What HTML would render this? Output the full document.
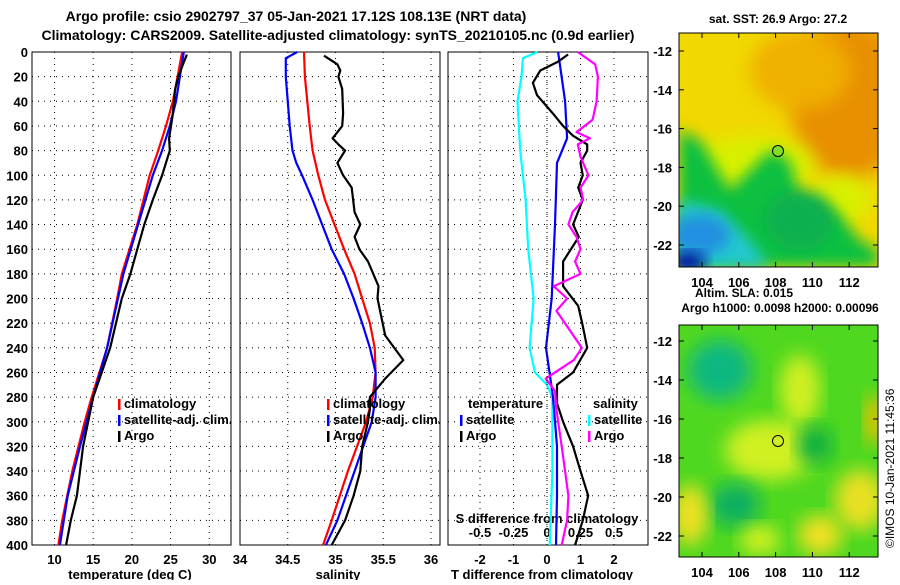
<!DOCTYPE html>
<html><head><meta charset="utf-8">
<style>
body{margin:0;background:#fff;}
svg text{font-family:"Liberation Sans",Arial,sans-serif;font-weight:bold;font-size:13px;fill:#000;}
</style></head>
<body>
<svg id="c" width="900" height="580" viewBox="0 0 900 580" xmlns="http://www.w3.org/2000/svg">
<defs>
<filter id="bl" x="-20%" y="-20%" width="140%" height="140%"><feGaussianBlur stdDeviation="9"/></filter>
<filter id="bl2" x="-20%" y="-20%" width="140%" height="140%"><feGaussianBlur stdDeviation="7"/></filter>
<clipPath id="m1"><rect x="679" y="33" width="199" height="234"/></clipPath>
<clipPath id="m2"><rect x="679" y="325" width="199" height="232"/></clipPath>
</defs>
<text x="296" y="21" text-anchor="middle" style="font-size:14px">Argo profile: csio 2902797_37 05-Jan-2021 17.12S 108.13E (NRT data)</text>
<text x="338" y="40" text-anchor="middle" style="font-size:14px">Climatology: CARS2009. Satellite-adjusted climatology: synTS_20210105.nc (0.9d earlier)</text>

<g>
<g clip-path="url(#m1)">
<rect x="679" y="33" width="199" height="234" fill="#f0d800"/>
<ellipse cx="850" cy="100" rx="60" ry="80" fill="#e89000" filter="url(#bl)"/>
<ellipse cx="800" cy="70" rx="50" ry="40" fill="#f0b000" filter="url(#bl)"/>
<ellipse cx="750" cy="165" rx="65" ry="28" fill="#d8f000" filter="url(#bl)"/>
<ellipse cx="840" cy="200" rx="30" ry="25" fill="#d8f000" filter="url(#bl)"/>
<polygon points="679,130 700,140 730,190 770,150 790,160 800,200 840,215 860,240 878,250 878,267 679,267" fill="#10c040" filter="url(#bl2)"/>
<polygon points="679,200 720,210 750,240 770,267 679,267" fill="#20c8d0" filter="url(#bl2)"/>
<ellipse cx="700" cy="235" rx="30" ry="20" fill="#2090e0" filter="url(#bl2)"/>
<ellipse cx="688" cy="262" rx="18" ry="10" fill="#0010a0" filter="url(#bl2)"/>
<ellipse cx="800" cy="220" rx="35" ry="30" fill="#10b050" filter="url(#bl2)"/>
</g>
<rect x="679" y="33" width="199" height="234" fill="none" stroke="#000"/>
<circle cx="778" cy="151" r="5.5" fill="#80e020" stroke="#000"/>
</g>
<g>
<g clip-path="url(#m2)">
<rect x="679" y="325" width="199" height="232" fill="#50d820"/>
<ellipse cx="770" cy="450" rx="45" ry="30" fill="#d0f020" filter="url(#bl)"/>
<ellipse cx="800" cy="390" rx="20" ry="35" fill="#d0f020" filter="url(#bl)"/>
<ellipse cx="720" cy="370" rx="32" ry="30" fill="#10b880" filter="url(#bl)"/>
<ellipse cx="735" cy="505" rx="25" ry="22" fill="#10b060" filter="url(#bl)"/>
<ellipse cx="815" cy="445" rx="18" ry="20" fill="#10b040" filter="url(#bl)"/>
<ellipse cx="690" cy="515" rx="18" ry="30" fill="#f0e020" filter="url(#bl)"/>
<ellipse cx="820" cy="535" rx="22" ry="20" fill="#f0e020" filter="url(#bl)"/>
<ellipse cx="860" cy="500" rx="25" ry="30" fill="#e8e020" filter="url(#bl)"/>
<ellipse cx="875" cy="420" rx="10" ry="25" fill="#f0c000" filter="url(#bl)"/>
<ellipse cx="760" cy="540" rx="20" ry="15" fill="#d0f020" filter="url(#bl)"/>
</g>
<rect x="679" y="325" width="199" height="232" fill="none" stroke="#000"/>
<circle cx="778" cy="441" r="5.5" fill="none" stroke="#000"/>
</g>
<text x="778" y="23" text-anchor="middle" style="font-size:12px">sat. SST: 26.9 Argo: 27.2</text>
<text x="695" y="297" style="font-size:12px">Altim. SLA: 0.015</text>
<text x="780" y="312" text-anchor="middle" style="font-size:12px">Argo h1000: 0.0098 h2000: 0.00096</text>
<text transform="translate(894,548) rotate(-90)" style="font-size:12px;font-weight:normal">©IMOS 10-Jan-2021 11:45:36</text>
<g id="axes"></g>
</svg>
<script>
// ---- data ----
const tDepth = [0,40,60,80,100,140,180,200,240,280,300,340,380,400];
const tClim  = [26.5,25.3,24.4,23.4,22.3,20.7,18.7,18.1,16.8,14.8,13.9,12.3,11.0,10.5];
const tSatDepth = [0,40,60,80,100,140,180,240,280,320,360,400];
const tSat   = [26.7,25.7,24.9,23.9,22.7,20.8,18.9,16.8,15.0,13.3,11.7,10.7];
const tArgoDepth = [2,10,20,30,50,70,80,100,120,140,160,180,200,240,280,320,340,360,380,400];
const tArgo  = [27.1,26.6,26.0,25.6,25.3,24.8,24.9,23.9,22.7,21.6,20.7,19.8,18.7,17.2,15.0,13.7,13.3,12.9,12.1,11.5];
const sClimDepth = [0,20,60,80,100,120,140,160,180,200,220,240,260,280,300,340,380,400];
const sClim  = [34.67,34.68,34.73,34.76,34.82,34.89,34.99,35.09,35.20,35.28,35.36,35.41,35.42,35.39,35.32,35.13,34.96,34.87];
const sSatDepth = [0,5,20,60,80,90,100,120,140,160,180,200,220,240,260,280,300,340,380,400];
const sSat   = [34.60,34.48,34.48,34.52,34.55,34.59,34.65,34.76,34.86,34.96,35.09,35.19,35.28,35.36,35.42,35.42,35.38,35.20,35.02,34.90];
const sArgoDepth = [3,10,15,20,30,50,60,70,75,80,90,100,110,130,140,150,160,170,190,200,230,250,265,280,290,300,320,340,360,380,400];
const sArgo  = [34.88,35.02,35.05,35.03,35.07,35.08,35.07,34.97,35.03,35.10,35.02,35.08,35.17,35.20,35.26,35.20,35.25,35.34,35.45,35.44,35.52,35.71,35.52,35.36,35.36,35.34,35.28,35.26,35.19,35.10,34.96];
const dTSatDepth = [0,40,70,90,140,200,240,280,320,360,400];
const dTSat  = [0.33,0.54,0.6,0.3,0.24,0.14,-0.03,0.18,0.3,0.3,0.27];
const dTArgoDepth = [2,8,15,25,35,50,60,68,75,80,90,100,110,120,140,150,170,190,206,220,240,260,270,285,300,320,340,360,380,400];
const dTArgo = [0.63,0.32,-0.2,-0.42,-0.3,0.18,0.48,0.78,1.2,1.2,1.0,1.07,0.93,1.07,0.78,0.95,0.48,0.48,0.93,1.05,1.2,0.78,0.3,0.3,0.48,0.78,1.0,1.23,1.07,0.84];
const dSSatDepth = [0,5,20,40,80,120,160,200,240,260,270,280,300,340,400];
const dSSat  = [-0.07,-0.18,-0.19,-0.22,-0.2,-0.16,-0.14,-0.1,-0.13,-0.09,0,0.04,0.04,0.04,0.02];
const dSArgoDepth = [0,10,20,40,55,65,70,75,85,100,110,120,130,140,150,160,170,180,190,200,210,240,250,265,275,290,320,360,380,400];
const dSArgo = [0.23,0.36,0.38,0.37,0.34,0.22,0.32,0.23,0.25,0.31,0.25,0.27,0.19,0.16,0.22,0.25,0.21,0.25,0.05,0.15,0.07,0.26,0.2,-0.01,0.06,0.07,0.11,0.16,0.15,0.11];
const depthTicks = [0,20,40,60,80,100,120,140,160,180,200,220,240,260,280,300,320,340,360,380,400];
const tTicks = [10,15,20,25,30];
const sTicks = [34,34.5,35,35.5,36];
const dTTicks = [-2,-1,0,1,2];
const dSTicks = [-0.5,-0.25,0,0.25,0.5];
const latTicks = [-12,-14,-16,-18,-20,-22];
const lonTicks = [104,106,108,110,112];

const NS='http://www.w3.org/2000/svg';
const g=document.getElementById('axes');
function mk(tag,at,parent){const e=document.createElementNS(NS,tag);for(const k in at)e.setAttribute(k,at[k]);(parent||g).appendChild(e);return e;}
const Y0=52, Y1=545;
const yD=d=>Y0+(d/400)*(Y1-Y0);
const xT=v=>54.5+(v-10)*7.74;
const xS=v=>240+(v-34)*95.5;
const xDT=v=>547+v*33.5;
const xDS=v=>547+v*134;
const panels=[[32,231],[240,440],[448,648]];

panels.forEach((p,i)=>{
  const r=mk('rect',{x:p[0],y:Y0,width:p[1]-p[0],height:Y1-Y0,fill:'none',stroke:'#000','stroke-width':1});
  
  
  depthTicks.forEach(d=>{
    if(d>0&&d<400){const l=mk('line',{x1:p[0],x2:p[1],y1:yD(d),y2:yD(d),stroke:'#000','stroke-dasharray':'1 5'});
    
    }
  });
});
depthTicks.forEach(d=>{
  const t=mk('text',{x:28,y:yD(d)+5,'text-anchor':'end'});t.textContent=d;
  
  
});
function vgrid(ticks,fx,p,lab,ly){
  ticks.forEach(v=>{const x=fx(v);
    if(x>p[0]+2&&x<p[1]-2){const l=mk('line',{x1:x,x2:x,y1:Y0,y2:Y1,stroke:'#000','stroke-dasharray':'1 5'});
    
    }
    if(lab){const t=mk('text',{x:x,y:ly,'text-anchor':'middle'});t.textContent=v;
    
    }
  });
}
vgrid(tTicks,xT,panels[0],true,564);
vgrid(sTicks,xS,panels[1],true,564);
vgrid(dTTicks,xDT,panels[2],true,564);
dSTicks.forEach(v=>{const t=mk('text',{x:xDS(v),y:537,'text-anchor':'middle'});t.textContent=v;
  
  });
function txt(x,y,s,name,anchor){const t=mk('text',{x:x,y:y,'text-anchor':anchor||'start'});t.textContent=s;
  
  return t;}
txt(130,579,'temperature (deg C)','temperature-axis-title','middle');
txt(338,579,'salinity','salinity-axis-title','middle');
txt(542,579,'T difference from climatology','t-diff-axis-title','middle');
txt(547,523,'S difference from climatology','s-diff-axis-title','middle');

function line(ds,vs,fx,col,name){
  const pts=ds.map((d,i)=>fx(vs[i]).toFixed(1)+','+yD(d).toFixed(1)).join(' ');
  const pl=mk('polyline',{points:pts,fill:'none',stroke:col,'stroke-width':2.2,'stroke-linejoin':'round'});
  
  
}
line(tDepth,tClim,xT,'#ff0000','temp-climatology-line');
line(tSatDepth,tSat,xT,'#0000ff','temp-satellite-line');
line(tArgoDepth,tArgo,xT,'#000','temp-argo-line');
line(sClimDepth,sClim,xS,'#ff0000','sal-climatology-line');
line(sSatDepth,sSat,xS,'#0000ff','sal-satellite-line');
line(sArgoDepth,sArgo,xS,'#000','sal-argo-line');
line(dSSatDepth,dSSat,xDS,'#00ffff','sdiff-satellite-line');
line(dTSatDepth,dTSat,xDT,'#0000ff','tdiff-satellite-line');
line(dTArgoDepth,dTArgo,xDT,'#000','tdiff-argo-line');
line(dSArgoDepth,dSArgo,xDS,'#ff00ff','sdiff-argo-line');
const zl=mk('line',{x1:547,x2:547,y1:Y0,y2:Y1,stroke:'#000','stroke-dasharray':'1 3'});



function leg(x,y,col,s){
  const r=mk('rect',{x:x,y:y-9,width:2.5,height:11,fill:col});
  
  
  txt(x+6,y,s,'legend-entry');
}
[[118,'#ff0000','climatology'],[118,'#0000ff','satellite-adj. clim.'],[118,'#000','Argo']].forEach((e,i)=>leg(e[0],408+i*16,e[1],e[2]));
[[327,'#ff0000','climatology'],[327,'#0000ff','satellite-adj. clim.'],[327,'#000','Argo']].forEach((e,i)=>leg(e[0],408+i*16,e[1],e[2]));
txt(468,408,'temperature','legend-temperature-heading');
txt(593,408,'salinity','legend-salinity-heading');
leg(460,424,'#0000ff','satellite');leg(460,440,'#000','Argo');
leg(588,424,'#00ffff','satellite');leg(588,440,'#ff00ff','Argo');

// map ticks
function mapAxes(top,bot,yf,lab){
  latTicks.forEach(v=>{const y=yf(v);
    mk('line',{x1:679,x2:684,y1:y,y2:y,stroke:'#000'});mk('line',{x1:873,x2:878,y1:y,y2:y,stroke:'#000'});
    const t=mk('text',{x:672,y:y+5,'text-anchor':'end'});t.textContent=v;
    
    });
  lonTicks.forEach(v=>{const x=702+(v-104)*18.4;
    mk('line',{x1:x,x2:x,y1:top,y2:top+5,stroke:'#000'});mk('line',{x1:x,x2:x,y1:bot-5,y2:bot,stroke:'#000'});
    const t=mk('text',{x:x,y:lab,'text-anchor':'middle'});t.textContent=v;
    
    });
}
mapAxes(33,267,v=>51+(-12-v)*19.4,287);
mapAxes(325,557,v=>341+(-12-v)*19.5,577);
</script>
</body></html>
